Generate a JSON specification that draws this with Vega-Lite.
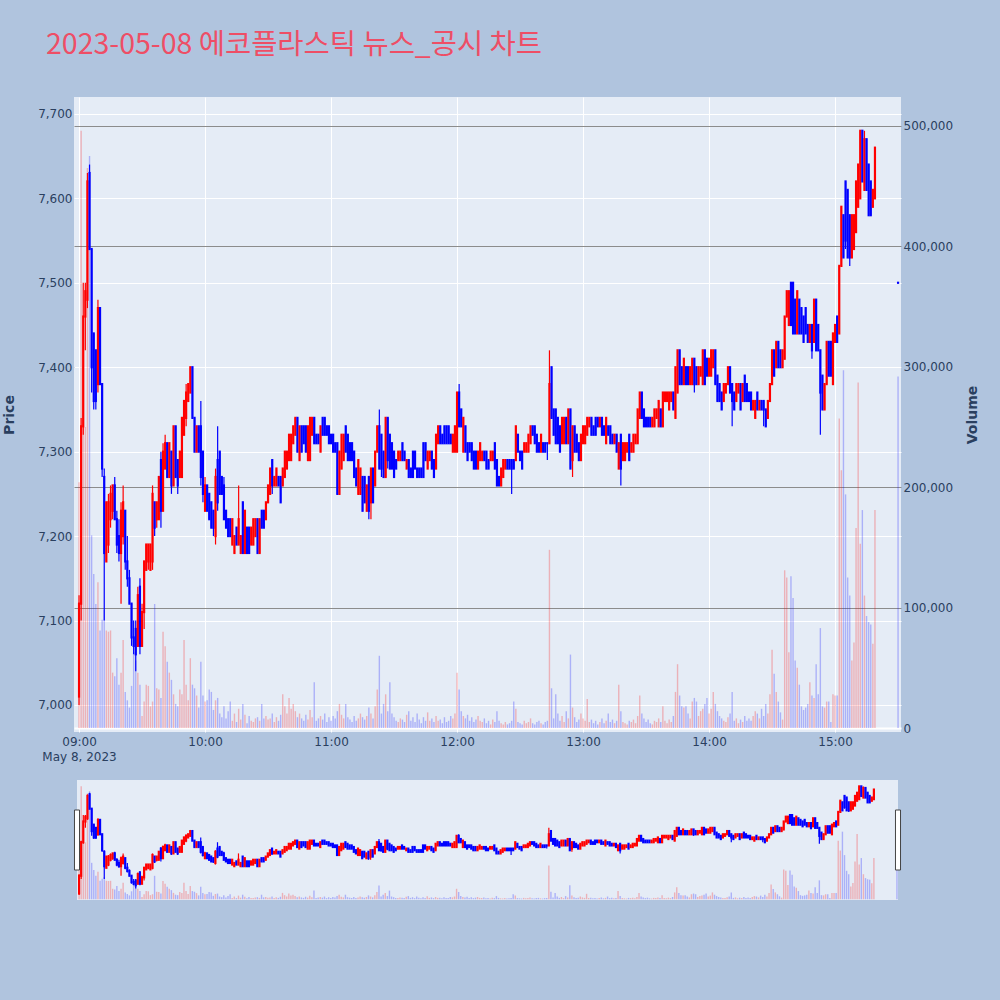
{
"$schema": "https://vega.github.io/schema/vega-lite/v6.json",
"background": "#b0c4de",
"padding": {"left": 2, "top": 30, "right": 20, "bottom": 100},
"title": {"text": "2023-05-08 에코플라스틱 뉴스_공시 차트", "anchor": "start", "frame": "group", "font": "Noto Sans CJK KR", "fontSize": 28.5, "fontWeight": "normal", "color": "#ee4e66", "baseline": "bottom", "offset": 9, "dx": -28},
"bounds": "flush",
"center": true,
"spacing": 48,
"config": {"view": {"stroke": null}},
"datasets": {"k": [
{"m":0,"o":7010,"h":7130,"l":7000,"c":7120,"v":204000},
{"m":1,"o":7120,"h":7340,"l":7100,"c":7330,"v":496000},
{"m":2,"o":7330,"h":7500,"l":7320,"c":7460,"v":300000},
{"m":3,"o":7460,"h":7500,"l":7420,"c":7490,"v":250000},
{"m":4,"o":7480,"h":7630,"l":7470,"c":7620,"v":465000},
{"m":5,"o":7630,"h":7640,"l":7540,"c":7540,"v":475000},
{"m":6,"o":7540,"h":7540,"l":7370,"c":7400,"v":160000},
{"m":7,"o":7440,"h":7440,"l":7350,"c":7360,"v":128000},
{"m":8,"o":7420,"h":7420,"l":7350,"c":7360,"v":103000},
{"m":9,"o":7380,"h":7480,"l":7370,"c":7470,"v":121000},
{"m":10,"o":7470,"h":7470,"l":7380,"c":7380,"v":81000},
{"m":11,"o":7380,"h":7380,"l":7270,"c":7280,"v":90000},
{"m":12,"o":7270,"h":7280,"l":7100,"c":7180,"v":98000},
{"m":13,"o":7170,"h":7240,"l":7170,"c":7240,"v":81000},
{"m":14,"o":7190,"h":7250,"l":7180,"c":7240,"v":80000},
{"m":15,"o":7220,"h":7260,"l":7210,"c":7250,"v":81000},
{"m":16,"o":7230,"h":7260,"l":7220,"c":7260,"v":46000},
{"m":17,"o":7260,"h":7270,"l":7220,"c":7220,"v":43000},
{"m":18,"o":7220,"h":7230,"l":7180,"c":7190,"v":58000},
{"m":19,"o":7200,"h":7220,"l":7170,"c":7180,"v":36000},
{"m":20,"o":7180,"h":7240,"l":7120,"c":7230,"v":46000},
{"m":21,"o":7200,"h":7260,"l":7190,"c":7240,"v":73000},
{"m":22,"o":7230,"h":7230,"l":7160,"c":7170,"v":30000},
{"m":23,"o":7170,"h":7200,"l":7140,"c":7150,"v":23000},
{"m":24,"o":7150,"h":7160,"l":7120,"c":7120,"v":17000},
{"m":25,"o":7120,"h":7120,"l":7070,"c":7080,"v":35000},
{"m":26,"o":7080,"h":7100,"l":7060,"c":7070,"v":63000},
{"m":27,"o":7090,"h":7100,"l":7040,"c":7060,"v":56000},
{"m":28,"o":7070,"h":7140,"l":7070,"c":7130,"v":46000},
{"m":29,"o":7140,"h":7150,"l":7060,"c":7070,"v":36000},
{"m":30,"o":7070,"h":7120,"l":7070,"c":7110,"v":10000},
{"m":31,"o":7110,"h":7170,"l":7090,"c":7170,"v":22000},
{"m":32,"o":7160,"h":7190,"l":7160,"c":7190,"v":36000},
{"m":33,"o":7170,"h":7190,"l":7160,"c":7190,"v":35000},
{"m":34,"o":7160,"h":7190,"l":7160,"c":7190,"v":18000},
{"m":35,"o":7170,"h":7260,"l":7160,"c":7250,"v":22000},
{"m":36,"o":7240,"h":7240,"l":7200,"c":7210,"v":103000},
{"m":37,"o":7220,"h":7240,"l":7210,"c":7240,"v":33000},
{"m":38,"o":7220,"h":7270,"l":7220,"c":7270,"v":32000},
{"m":39,"o":7290,"h":7300,"l":7210,"c":7230,"v":25000},
{"m":40,"o":7230,"h":7310,"l":7230,"c":7300,"v":80000},
{"m":41,"o":7280,"h":7320,"l":7280,"c":7310,"v":68000},
{"m":42,"o":7310,"h":7310,"l":7270,"c":7270,"v":55000},
{"m":43,"o":7270,"h":7310,"l":7270,"c":7310,"v":46000},
{"m":44,"o":7300,"h":7300,"l":7250,"c":7260,"v":40000},
{"m":45,"o":7260,"h":7330,"l":7260,"c":7330,"v":28000},
{"m":46,"o":7330,"h":7330,"l":7270,"c":7270,"v":20000},
{"m":47,"o":7290,"h":7290,"l":7250,"c":7260,"v":18000},
{"m":48,"o":7270,"h":7300,"l":7270,"c":7300,"v":32000},
{"m":49,"o":7270,"h":7340,"l":7270,"c":7340,"v":28000},
{"m":50,"o":7320,"h":7360,"l":7320,"c":7360,"v":73000},
{"m":51,"o":7340,"h":7380,"l":7330,"c":7370,"v":36000},
{"m":52,"o":7360,"h":7380,"l":7360,"c":7380,"v":23000},
{"m":53,"o":7370,"h":7400,"l":7370,"c":7400,"v":58000},
{"m":54,"o":7400,"h":7400,"l":7340,"c":7340,"v":36000},
{"m":55,"o":7340,"h":7340,"l":7300,"c":7300,"v":33000},
{"m":56,"o":7300,"h":7330,"l":7300,"c":7330,"v":27000},
{"m":57,"o":7330,"h":7330,"l":7300,"c":7300,"v":17000},
{"m":58,"o":7330,"h":7360,"l":7260,"c":7270,"v":55000},
{"m":59,"o":7300,"h":7300,"l":7240,"c":7250,"v":27000},
{"m":60,"o":7230,"h":7270,"l":7230,"c":7260,"v":22000},
{"m":61,"o":7260,"h":7260,"l":7230,"c":7230,"v":23000},
{"m":62,"o":7250,"h":7250,"l":7220,"c":7220,"v":32000},
{"m":63,"o":7240,"h":7240,"l":7210,"c":7210,"v":30000},
{"m":64,"o":7230,"h":7230,"l":7200,"c":7210,"v":15000},
{"m":65,"o":7200,"h":7280,"l":7190,"c":7270,"v":23000},
{"m":66,"o":7290,"h":7330,"l":7230,"c":7240,"v":25000},
{"m":67,"o":7300,"h":7300,"l":7250,"c":7250,"v":12000},
{"m":68,"o":7270,"h":7270,"l":7250,"c":7250,"v":9000},
{"m":69,"o":7260,"h":7270,"l":7220,"c":7220,"v":18000},
{"m":70,"o":7230,"h":7230,"l":7210,"c":7210,"v":8000},
{"m":71,"o":7220,"h":7220,"l":7200,"c":7200,"v":14000},
{"m":72,"o":7220,"h":7220,"l":7200,"c":7200,"v":22000},
{"m":73,"o":7190,"h":7220,"l":7190,"c":7220,"v":6000},
{"m":74,"o":7180,"h":7200,"l":7180,"c":7200,"v":12000},
{"m":75,"o":7210,"h":7210,"l":7190,"c":7190,"v":5000},
{"m":76,"o":7190,"h":7260,"l":7190,"c":7220,"v":16000},
{"m":77,"o":7180,"h":7200,"l":7180,"c":7200,"v":7000},
{"m":78,"o":7240,"h":7240,"l":7180,"c":7180,"v":20000},
{"m":79,"o":7180,"h":7230,"l":7180,"c":7230,"v":11000},
{"m":80,"o":7210,"h":7210,"l":7180,"c":7180,"v":4000},
{"m":81,"o":7210,"h":7210,"l":7180,"c":7180,"v":10000},
{"m":82,"o":7190,"h":7210,"l":7190,"c":7210,"v":6000},
{"m":83,"o":7190,"h":7220,"l":7190,"c":7220,"v":5000},
{"m":84,"o":7200,"h":7220,"l":7200,"c":7220,"v":8000},
{"m":85,"o":7220,"h":7220,"l":7180,"c":7180,"v":9000},
{"m":86,"o":7180,"h":7220,"l":7180,"c":7220,"v":6000},
{"m":87,"o":7230,"h":7230,"l":7210,"c":7210,"v":20000},
{"m":88,"o":7230,"h":7230,"l":7210,"c":7210,"v":8000},
{"m":89,"o":7220,"h":7240,"l":7220,"c":7240,"v":10000},
{"m":90,"o":7240,"h":7260,"l":7240,"c":7260,"v":7000},
{"m":91,"o":7250,"h":7280,"l":7250,"c":7280,"v":8000},
{"m":92,"o":7290,"h":7290,"l":7250,"c":7260,"v":12000},
{"m":93,"o":7260,"h":7270,"l":7260,"c":7270,"v":5000},
{"m":94,"o":7260,"h":7280,"l":7260,"c":7280,"v":9000},
{"m":95,"o":7270,"h":7270,"l":7260,"c":7260,"v":6000},
{"m":96,"o":7270,"h":7270,"l":7240,"c":7240,"v":11000},
{"m":97,"o":7260,"h":7280,"l":7260,"c":7280,"v":28000},
{"m":98,"o":7270,"h":7300,"l":7270,"c":7300,"v":18000},
{"m":99,"o":7280,"h":7300,"l":7280,"c":7300,"v":12000},
{"m":100,"o":7290,"h":7320,"l":7290,"c":7320,"v":25000},
{"m":101,"o":7290,"h":7320,"l":7290,"c":7320,"v":16000},
{"m":102,"o":7310,"h":7330,"l":7310,"c":7330,"v":20000},
{"m":103,"o":7320,"h":7340,"l":7320,"c":7340,"v":14000},
{"m":104,"o":7340,"h":7340,"l":7300,"c":7300,"v":9000},
{"m":105,"o":7290,"h":7330,"l":7290,"c":7330,"v":12000},
{"m":106,"o":7330,"h":7330,"l":7300,"c":7300,"v":8000},
{"m":107,"o":7330,"h":7330,"l":7310,"c":7310,"v":6000},
{"m":108,"o":7330,"h":7330,"l":7300,"c":7300,"v":11000},
{"m":109,"o":7290,"h":7330,"l":7290,"c":7330,"v":7000},
{"m":110,"o":7290,"h":7340,"l":7290,"c":7340,"v":15000},
{"m":111,"o":7320,"h":7340,"l":7320,"c":7340,"v":9000},
{"m":112,"o":7340,"h":7340,"l":7310,"c":7310,"v":38000},
{"m":113,"o":7320,"h":7320,"l":7310,"c":7310,"v":6000},
{"m":114,"o":7320,"h":7320,"l":7310,"c":7310,"v":8000},
{"m":115,"o":7300,"h":7330,"l":7300,"c":7330,"v":10000},
{"m":116,"o":7340,"h":7340,"l":7320,"c":7320,"v":7000},
{"m":117,"o":7340,"h":7340,"l":7320,"c":7320,"v":12000},
{"m":118,"o":7330,"h":7330,"l":7320,"c":7320,"v":5000},
{"m":119,"o":7330,"h":7330,"l":7310,"c":7310,"v":9000},
{"m":120,"o":7320,"h":7320,"l":7310,"c":7310,"v":6000},
{"m":121,"o":7320,"h":7320,"l":7300,"c":7300,"v":10000},
{"m":122,"o":7310,"h":7310,"l":7300,"c":7300,"v":8000},
{"m":123,"o":7310,"h":7310,"l":7250,"c":7250,"v":14000},
{"m":124,"o":7250,"h":7300,"l":7250,"c":7300,"v":20000},
{"m":125,"o":7280,"h":7320,"l":7280,"c":7320,"v":11000},
{"m":126,"o":7290,"h":7320,"l":7290,"c":7320,"v":8000},
{"m":127,"o":7330,"h":7330,"l":7300,"c":7300,"v":20000},
{"m":128,"o":7320,"h":7320,"l":7290,"c":7290,"v":9000},
{"m":129,"o":7310,"h":7310,"l":7290,"c":7290,"v":7000},
{"m":130,"o":7310,"h":7310,"l":7290,"c":7290,"v":5000},
{"m":131,"o":7300,"h":7300,"l":7270,"c":7270,"v":10000},
{"m":132,"o":7280,"h":7280,"l":7260,"c":7260,"v":6000},
{"m":133,"o":7250,"h":7290,"l":7250,"c":7290,"v":8000},
{"m":134,"o":7250,"h":7280,"l":7250,"c":7280,"v":12000},
{"m":135,"o":7270,"h":7270,"l":7230,"c":7230,"v":9000},
{"m":136,"o":7270,"h":7270,"l":7240,"c":7240,"v":7000},
{"m":137,"o":7230,"h":7260,"l":7230,"c":7260,"v":10000},
{"m":138,"o":7270,"h":7270,"l":7220,"c":7230,"v":17000},
{"m":139,"o":7240,"h":7280,"l":7220,"c":7280,"v":12000},
{"m":140,"o":7280,"h":7280,"l":7240,"c":7240,"v":8000},
{"m":141,"o":7260,"h":7300,"l":7260,"c":7300,"v":18000},
{"m":142,"o":7300,"h":7330,"l":7300,"c":7330,"v":32000},
{"m":143,"o":7330,"h":7350,"l":7280,"c":7280,"v":60000},
{"m":144,"o":7320,"h":7320,"l":7270,"c":7280,"v":12000},
{"m":145,"o":7300,"h":7300,"l":7270,"c":7270,"v":20000},
{"m":146,"o":7270,"h":7340,"l":7270,"c":7340,"v":28000},
{"m":147,"o":7340,"h":7340,"l":7280,"c":7290,"v":14000},
{"m":148,"o":7320,"h":7320,"l":7280,"c":7280,"v":38000},
{"m":149,"o":7310,"h":7310,"l":7280,"c":7280,"v":12000},
{"m":150,"o":7300,"h":7300,"l":7270,"c":7270,"v":9000},
{"m":151,"o":7290,"h":7290,"l":7280,"c":7280,"v":6000},
{"m":152,"o":7290,"h":7300,"l":7290,"c":7300,"v":5000},
{"m":153,"o":7290,"h":7300,"l":7290,"c":7300,"v":8000},
{"m":154,"o":7310,"h":7310,"l":7290,"c":7290,"v":7000},
{"m":155,"o":7300,"h":7300,"l":7290,"c":7290,"v":5000},
{"m":156,"o":7280,"h":7290,"l":7280,"c":7290,"v":11000},
{"m":157,"o":7290,"h":7290,"l":7270,"c":7270,"v":14000},
{"m":158,"o":7280,"h":7280,"l":7270,"c":7270,"v":6000},
{"m":159,"o":7300,"h":7300,"l":7270,"c":7270,"v":9000},
{"m":160,"o":7300,"h":7300,"l":7280,"c":7280,"v":5000},
{"m":161,"o":7280,"h":7280,"l":7270,"c":7270,"v":12000},
{"m":162,"o":7280,"h":7280,"l":7270,"c":7270,"v":7000},
{"m":163,"o":7280,"h":7280,"l":7270,"c":7270,"v":4000},
{"m":164,"o":7310,"h":7310,"l":7270,"c":7270,"v":9000},
{"m":165,"o":7310,"h":7310,"l":7290,"c":7290,"v":6000},
{"m":166,"o":7280,"h":7300,"l":7280,"c":7300,"v":13000},
{"m":167,"o":7290,"h":7300,"l":7290,"c":7300,"v":6000},
{"m":168,"o":7300,"h":7300,"l":7280,"c":7280,"v":8000},
{"m":169,"o":7290,"h":7290,"l":7270,"c":7270,"v":5000},
{"m":170,"o":7280,"h":7320,"l":7280,"c":7320,"v":10000},
{"m":171,"o":7310,"h":7330,"l":7310,"c":7330,"v":6000},
{"m":172,"o":7330,"h":7330,"l":7310,"c":7310,"v":7000},
{"m":173,"o":7320,"h":7320,"l":7310,"c":7310,"v":4000},
{"m":174,"o":7330,"h":7330,"l":7310,"c":7310,"v":9000},
{"m":175,"o":7330,"h":7330,"l":7310,"c":7310,"v":5000},
{"m":176,"o":7330,"h":7330,"l":7310,"c":7310,"v":6000},
{"m":177,"o":7320,"h":7320,"l":7310,"c":7310,"v":10000},
{"m":178,"o":7300,"h":7320,"l":7300,"c":7320,"v":8000},
{"m":179,"o":7300,"h":7330,"l":7300,"c":7330,"v":12000},
{"m":180,"o":7300,"h":7370,"l":7300,"c":7370,"v":46000},
{"m":181,"o":7370,"h":7380,"l":7330,"c":7330,"v":32000},
{"m":182,"o":7350,"h":7350,"l":7330,"c":7330,"v":14000},
{"m":183,"o":7300,"h":7340,"l":7300,"c":7340,"v":10000},
{"m":184,"o":7330,"h":7330,"l":7300,"c":7300,"v":8000},
{"m":185,"o":7310,"h":7310,"l":7290,"c":7290,"v":11000},
{"m":186,"o":7310,"h":7310,"l":7300,"c":7300,"v":6000},
{"m":187,"o":7310,"h":7310,"l":7290,"c":7290,"v":9000},
{"m":188,"o":7300,"h":7300,"l":7280,"c":7280,"v":5000},
{"m":189,"o":7300,"h":7300,"l":7280,"c":7280,"v":7000},
{"m":190,"o":7280,"h":7300,"l":7280,"c":7300,"v":10000},
{"m":191,"o":7290,"h":7310,"l":7290,"c":7310,"v":6000},
{"m":192,"o":7290,"h":7300,"l":7290,"c":7300,"v":5000},
{"m":193,"o":7300,"h":7300,"l":7290,"c":7290,"v":8000},
{"m":194,"o":7300,"h":7300,"l":7280,"c":7280,"v":4000},
{"m":195,"o":7290,"h":7290,"l":7280,"c":7280,"v":6000},
{"m":196,"o":7290,"h":7300,"l":7290,"c":7300,"v":3000},
{"m":197,"o":7290,"h":7300,"l":7290,"c":7300,"v":7000},
{"m":198,"o":7310,"h":7310,"l":7280,"c":7280,"v":5000},
{"m":199,"o":7290,"h":7290,"l":7260,"c":7260,"v":14000},
{"m":200,"o":7270,"h":7270,"l":7260,"c":7260,"v":6000},
{"m":201,"o":7260,"h":7280,"l":7260,"c":7280,"v":4000},
{"m":202,"o":7270,"h":7290,"l":7270,"c":7290,"v":3000},
{"m":203,"o":7280,"h":7290,"l":7280,"c":7290,"v":5000},
{"m":204,"o":7290,"h":7290,"l":7280,"c":7280,"v":3000},
{"m":205,"o":7290,"h":7290,"l":7280,"c":7280,"v":4000},
{"m":206,"o":7290,"h":7290,"l":7250,"c":7280,"v":6000},
{"m":207,"o":7290,"h":7290,"l":7280,"c":7280,"v":22000},
{"m":208,"o":7290,"h":7330,"l":7290,"c":7330,"v":16000},
{"m":209,"o":7320,"h":7320,"l":7300,"c":7300,"v":5000},
{"m":210,"o":7300,"h":7300,"l":7290,"c":7290,"v":4000},
{"m":211,"o":7300,"h":7300,"l":7280,"c":7280,"v":3000},
{"m":212,"o":7300,"h":7310,"l":7300,"c":7310,"v":6000},
{"m":213,"o":7300,"h":7310,"l":7300,"c":7310,"v":4000},
{"m":214,"o":7300,"h":7320,"l":7300,"c":7320,"v":5000},
{"m":215,"o":7310,"h":7330,"l":7310,"c":7330,"v":8000},
{"m":216,"o":7330,"h":7330,"l":7320,"c":7320,"v":4000},
{"m":217,"o":7330,"h":7330,"l":7310,"c":7310,"v":3000},
{"m":218,"o":7320,"h":7320,"l":7300,"c":7300,"v":5000},
{"m":219,"o":7310,"h":7310,"l":7300,"c":7300,"v":6000},
{"m":220,"o":7300,"h":7320,"l":7300,"c":7320,"v":4000},
{"m":221,"o":7310,"h":7310,"l":7300,"c":7300,"v":3000},
{"m":222,"o":7310,"h":7310,"l":7300,"c":7300,"v":5000},
{"m":223,"o":7310,"h":7310,"l":7290,"c":7310,"v":6000},
{"m":224,"o":7310,"h":7420,"l":7310,"c":7380,"v":148000},
{"m":225,"o":7400,"h":7400,"l":7340,"c":7340,"v":33000},
{"m":226,"o":7350,"h":7350,"l":7320,"c":7320,"v":8000},
{"m":227,"o":7350,"h":7350,"l":7310,"c":7310,"v":28000},
{"m":228,"o":7340,"h":7340,"l":7310,"c":7310,"v":12000},
{"m":229,"o":7330,"h":7330,"l":7300,"c":7300,"v":6000},
{"m":230,"o":7310,"h":7340,"l":7310,"c":7340,"v":10000},
{"m":231,"o":7310,"h":7340,"l":7310,"c":7340,"v":5000},
{"m":232,"o":7340,"h":7340,"l":7310,"c":7310,"v":14000},
{"m":233,"o":7310,"h":7350,"l":7310,"c":7350,"v":8000},
{"m":234,"o":7350,"h":7350,"l":7280,"c":7280,"v":61000},
{"m":235,"o":7290,"h":7330,"l":7270,"c":7330,"v":17000},
{"m":236,"o":7330,"h":7330,"l":7300,"c":7300,"v":9000},
{"m":237,"o":7320,"h":7320,"l":7300,"c":7300,"v":5000},
{"m":238,"o":7310,"h":7310,"l":7290,"c":7290,"v":7000},
{"m":239,"o":7290,"h":7320,"l":7290,"c":7320,"v":12000},
{"m":240,"o":7310,"h":7330,"l":7310,"c":7330,"v":8000},
{"m":241,"o":7310,"h":7330,"l":7310,"c":7330,"v":6000},
{"m":242,"o":7320,"h":7340,"l":7320,"c":7340,"v":24000},
{"m":243,"o":7330,"h":7340,"l":7330,"c":7340,"v":5000},
{"m":244,"o":7340,"h":7340,"l":7320,"c":7320,"v":7000},
{"m":245,"o":7330,"h":7330,"l":7320,"c":7320,"v":4000},
{"m":246,"o":7340,"h":7340,"l":7320,"c":7320,"v":6000},
{"m":247,"o":7340,"h":7340,"l":7330,"c":7330,"v":3000},
{"m":248,"o":7330,"h":7340,"l":7330,"c":7340,"v":5000},
{"m":249,"o":7340,"h":7340,"l":7320,"c":7320,"v":8000},
{"m":250,"o":7330,"h":7330,"l":7320,"c":7320,"v":4000},
{"m":251,"o":7310,"h":7340,"l":7310,"c":7340,"v":6000},
{"m":252,"o":7330,"h":7330,"l":7320,"c":7320,"v":12000},
{"m":253,"o":7330,"h":7330,"l":7310,"c":7310,"v":5000},
{"m":254,"o":7320,"h":7320,"l":7310,"c":7310,"v":7000},
{"m":255,"o":7310,"h":7320,"l":7310,"c":7320,"v":4000},
{"m":256,"o":7320,"h":7320,"l":7300,"c":7300,"v":6000},
{"m":257,"o":7280,"h":7310,"l":7280,"c":7310,"v":36000},
{"m":258,"o":7320,"h":7320,"l":7260,"c":7280,"v":14000},
{"m":259,"o":7290,"h":7310,"l":7290,"c":7310,"v":5000},
{"m":260,"o":7290,"h":7310,"l":7290,"c":7310,"v":4000},
{"m":261,"o":7300,"h":7310,"l":7300,"c":7310,"v":3000},
{"m":262,"o":7320,"h":7320,"l":7290,"c":7290,"v":6000},
{"m":263,"o":7300,"h":7310,"l":7300,"c":7310,"v":5000},
{"m":264,"o":7300,"h":7320,"l":7300,"c":7320,"v":7000},
{"m":265,"o":7310,"h":7320,"l":7310,"c":7320,"v":4000},
{"m":266,"o":7310,"h":7350,"l":7310,"c":7350,"v":10000},
{"m":267,"o":7340,"h":7370,"l":7340,"c":7370,"v":27000},
{"m":268,"o":7370,"h":7370,"l":7340,"c":7340,"v":12000},
{"m":269,"o":7350,"h":7350,"l":7330,"c":7330,"v":8000},
{"m":270,"o":7340,"h":7340,"l":7330,"c":7330,"v":5000},
{"m":271,"o":7340,"h":7340,"l":7330,"c":7330,"v":7000},
{"m":272,"o":7340,"h":7340,"l":7330,"c":7330,"v":4000},
{"m":273,"o":7330,"h":7340,"l":7330,"c":7340,"v":3000},
{"m":274,"o":7330,"h":7350,"l":7330,"c":7350,"v":6000},
{"m":275,"o":7340,"h":7350,"l":7340,"c":7350,"v":5000},
{"m":276,"o":7330,"h":7360,"l":7330,"c":7360,"v":8000},
{"m":277,"o":7350,"h":7350,"l":7330,"c":7330,"v":5000},
{"m":278,"o":7330,"h":7370,"l":7330,"c":7370,"v":18000},
{"m":279,"o":7360,"h":7370,"l":7360,"c":7370,"v":6000},
{"m":280,"o":7360,"h":7370,"l":7360,"c":7370,"v":4000},
{"m":281,"o":7350,"h":7370,"l":7350,"c":7370,"v":7000},
{"m":282,"o":7360,"h":7370,"l":7360,"c":7370,"v":5000},
{"m":283,"o":7370,"h":7370,"l":7350,"c":7350,"v":10000},
{"m":284,"o":7340,"h":7400,"l":7340,"c":7400,"v":30000},
{"m":285,"o":7370,"h":7420,"l":7370,"c":7420,"v":53000},
{"m":286,"o":7420,"h":7420,"l":7380,"c":7380,"v":27000},
{"m":287,"o":7400,"h":7400,"l":7380,"c":7380,"v":18000},
{"m":288,"o":7380,"h":7410,"l":7380,"c":7410,"v":17000},
{"m":289,"o":7400,"h":7400,"l":7380,"c":7380,"v":18000},
{"m":290,"o":7400,"h":7400,"l":7380,"c":7380,"v":12000},
{"m":291,"o":7380,"h":7400,"l":7380,"c":7400,"v":8000},
{"m":292,"o":7380,"h":7410,"l":7380,"c":7410,"v":22000},
{"m":293,"o":7410,"h":7410,"l":7370,"c":7380,"v":25000},
{"m":294,"o":7400,"h":7400,"l":7380,"c":7380,"v":22000},
{"m":295,"o":7380,"h":7400,"l":7380,"c":7400,"v":10000},
{"m":296,"o":7390,"h":7400,"l":7390,"c":7400,"v":14000},
{"m":297,"o":7380,"h":7420,"l":7380,"c":7420,"v":16000},
{"m":298,"o":7420,"h":7420,"l":7380,"c":7380,"v":20000},
{"m":299,"o":7410,"h":7410,"l":7390,"c":7390,"v":25000},
{"m":300,"o":7390,"h":7410,"l":7390,"c":7410,"v":12000},
{"m":301,"o":7390,"h":7420,"l":7390,"c":7420,"v":16000},
{"m":302,"o":7400,"h":7420,"l":7400,"c":7420,"v":30000},
{"m":303,"o":7420,"h":7420,"l":7380,"c":7380,"v":20000},
{"m":304,"o":7390,"h":7390,"l":7360,"c":7360,"v":14000},
{"m":305,"o":7380,"h":7380,"l":7360,"c":7360,"v":10000},
{"m":306,"o":7370,"h":7370,"l":7350,"c":7350,"v":8000},
{"m":307,"o":7360,"h":7380,"l":7360,"c":7380,"v":6000},
{"m":308,"o":7370,"h":7380,"l":7370,"c":7380,"v":5000},
{"m":309,"o":7380,"h":7400,"l":7380,"c":7400,"v":9000},
{"m":310,"o":7400,"h":7400,"l":7370,"c":7370,"v":12000},
{"m":311,"o":7380,"h":7380,"l":7330,"c":7360,"v":30000},
{"m":312,"o":7370,"h":7370,"l":7350,"c":7350,"v":6000},
{"m":313,"o":7360,"h":7380,"l":7360,"c":7380,"v":8000},
{"m":314,"o":7370,"h":7380,"l":7370,"c":7380,"v":4000},
{"m":315,"o":7380,"h":7380,"l":7350,"c":7350,"v":7000},
{"m":316,"o":7360,"h":7380,"l":7360,"c":7380,"v":5000},
{"m":317,"o":7390,"h":7390,"l":7360,"c":7360,"v":10000},
{"m":318,"o":7380,"h":7380,"l":7360,"c":7360,"v":6000},
{"m":319,"o":7370,"h":7370,"l":7360,"c":7360,"v":8000},
{"m":320,"o":7370,"h":7370,"l":7350,"c":7350,"v":6000},
{"m":321,"o":7350,"h":7360,"l":7350,"c":7360,"v":10000},
{"m":322,"o":7340,"h":7360,"l":7340,"c":7360,"v":14000},
{"m":323,"o":7370,"h":7370,"l":7350,"c":7350,"v":12000},
{"m":324,"o":7350,"h":7360,"l":7350,"c":7360,"v":8000},
{"m":325,"o":7360,"h":7360,"l":7350,"c":7350,"v":16000},
{"m":326,"o":7360,"h":7360,"l":7330,"c":7350,"v":10000},
{"m":327,"o":7350,"h":7350,"l":7330,"c":7330,"v":20000},
{"m":328,"o":7340,"h":7360,"l":7340,"c":7360,"v":12000},
{"m":329,"o":7360,"h":7380,"l":7360,"c":7380,"v":28000},
{"m":330,"o":7380,"h":7420,"l":7380,"c":7420,"v":65000},
{"m":331,"o":7420,"h":7420,"l":7390,"c":7390,"v":45000},
{"m":332,"o":7400,"h":7430,"l":7400,"c":7430,"v":30000},
{"m":333,"o":7430,"h":7430,"l":7400,"c":7400,"v":22000},
{"m":334,"o":7420,"h":7420,"l":7400,"c":7400,"v":13000},
{"m":335,"o":7400,"h":7420,"l":7400,"c":7420,"v":7000},
{"m":336,"o":7410,"h":7460,"l":7410,"c":7460,"v":131000},
{"m":337,"o":7460,"h":7490,"l":7460,"c":7490,"v":125000},
{"m":338,"o":7450,"h":7490,"l":7450,"c":7490,"v":63000},
{"m":339,"o":7500,"h":7500,"l":7450,"c":7450,"v":126000},
{"m":340,"o":7500,"h":7500,"l":7440,"c":7440,"v":108000},
{"m":341,"o":7480,"h":7480,"l":7440,"c":7440,"v":56000},
{"m":342,"o":7440,"h":7490,"l":7440,"c":7490,"v":50000},
{"m":343,"o":7480,"h":7480,"l":7440,"c":7440,"v":36000},
{"m":344,"o":7470,"h":7470,"l":7440,"c":7440,"v":18000},
{"m":345,"o":7460,"h":7460,"l":7430,"c":7430,"v":15000},
{"m":346,"o":7470,"h":7470,"l":7440,"c":7440,"v":17000},
{"m":347,"o":7450,"h":7450,"l":7430,"c":7430,"v":20000},
{"m":348,"o":7430,"h":7450,"l":7430,"c":7450,"v":38000},
{"m":349,"o":7450,"h":7450,"l":7410,"c":7420,"v":27000},
{"m":350,"o":7430,"h":7480,"l":7430,"c":7480,"v":25000},
{"m":351,"o":7480,"h":7480,"l":7420,"c":7420,"v":53000},
{"m":352,"o":7450,"h":7450,"l":7420,"c":7420,"v":28000},
{"m":353,"o":7420,"h":7420,"l":7320,"c":7370,"v":83000},
{"m":354,"o":7390,"h":7390,"l":7350,"c":7350,"v":18000},
{"m":355,"o":7350,"h":7380,"l":7350,"c":7380,"v":17000},
{"m":356,"o":7380,"h":7430,"l":7380,"c":7430,"v":22000},
{"m":357,"o":7430,"h":7430,"l":7390,"c":7390,"v":22000},
{"m":358,"o":7430,"h":7430,"l":7390,"c":7390,"v":5000},
{"m":359,"o":7380,"h":7440,"l":7380,"c":7440,"v":28000},
{"m":360,"o":7430,"h":7450,"l":7430,"c":7450,"v":27000},
{"m":361,"o":7460,"h":7460,"l":7430,"c":7430,"v":27000},
{"m":362,"o":7440,"h":7520,"l":7440,"c":7520,"v":257000},
{"m":363,"o":7520,"h":7590,"l":7520,"c":7590,"v":214000},
{"m":364,"o":7580,"h":7580,"l":7530,"c":7530,"v":297000},
{"m":365,"o":7620,"h":7620,"l":7540,"c":7550,"v":194000},
{"m":366,"o":7610,"h":7610,"l":7530,"c":7530,"v":125000},
{"m":367,"o":7580,"h":7580,"l":7520,"c":7530,"v":110000},
{"m":368,"o":7530,"h":7580,"l":7530,"c":7580,"v":56000},
{"m":369,"o":7540,"h":7580,"l":7540,"c":7580,"v":71000},
{"m":370,"o":7560,"h":7620,"l":7560,"c":7620,"v":166000},
{"m":371,"o":7590,"h":7640,"l":7590,"c":7640,"v":287000},
{"m":372,"o":7600,"h":7680,"l":7600,"c":7680,"v":153000},
{"m":373,"o":7680,"h":7680,"l":7620,"c":7620,"v":181000},
{"m":374,"o":7610,"h":7680,"l":7610,"c":7670,"v":110000},
{"m":375,"o":7670,"h":7670,"l":7610,"c":7610,"v":93000},
{"m":376,"o":7640,"h":7640,"l":7580,"c":7580,"v":88000},
{"m":377,"o":7620,"h":7620,"l":7580,"c":7580,"v":86000},
{"m":378,"o":7590,"h":7610,"l":7590,"c":7610,"v":70000},
{"m":379,"o":7600,"h":7660,"l":7600,"c":7660,"v":181000},
{"m":390,"o":7500,"h":7500,"l":7500,"c":7500,"v":292000}
]},
"vconcat": [
{
"width": 827, "height": 635,
"view": {"fill": "#e5ecf6", "stroke": null},
"data": {"name": "k"},
"encoding": {
  "x": {"field": "m", "type": "quantitative", "scale": {"domain": [-2.4, 391.4], "nice": false, "zero": false, "padding": 0},
    "axis": {"values": [0, 60, 120, 180, 240, 300, 360], "title": null, "grid": true, "gridColor": "#ffffff", "gridWidth": 1, "domain": false, "ticks": false, "labelPadding": 4, "labelFont": "DejaVu Sans", "labelFontSize": 12, "labelColor": "#2a3f5f", "labelLineHeight": 15, "labelFlush": false,
      "labelExpr": "datum.value == 0 ? ['09:00', 'May 8, 2023'] : ((datum.value / 60 + 9 < 10 ? '0' : '') + (datum.value / 60 + 9) + ':00')"}}
},
"layer": [
  {"mark": {"type": "bar", "size": 1.4, "opacity": 0.25},
   "encoding": {
     "y": {"field": "v", "type": "quantitative", "scale": {"domain": [-3300, 524000], "nice": false, "zero": false},
       "axis": {"orient": "right", "values": [0, 100000, 200000, 300000, 400000, 500000], "format": ",d", "title": "Volume", "titleAngle": 270, "titleFont": "DejaVu Sans", "titleFontSize": 14, "titleFontWeight": "bold", "titleColor": "#2a3f5f", "titlePadding": 27, "grid": true, "gridColor": {"condition": {"test": "datum.value === 0", "value": "#ffffff"}, "value": "#8c8c8c"}, "gridWidth": {"condition": {"test": "datum.value === 0", "value": 2}, "value": 1}, "domain": false, "ticks": false, "labelPadding": 2, "labelFont": "DejaVu Sans", "labelFontSize": 12, "labelColor": "#2a3f5f"}},
     "y2": {"datum": 0},
     "color": {"condition": {"test": "datum.c > datum.o", "value": "#ff0000"}, "value": "#0000ff"}
   }},
  {"mark": {"type": "rule", "strokeWidth": 1.2},
   "encoding": {
     "y": {"field": "l", "type": "quantitative", "scale": {"domain": [6968, 7720], "nice": false, "zero": false},
       "axis": {"orient": "left", "values": [7000, 7100, 7200, 7300, 7400, 7500, 7600, 7700], "format": ",d", "title": "Price", "titleFont": "DejaVu Sans", "titleFontSize": 14, "titleFontWeight": "bold", "titleColor": "#2a3f5f", "titlePadding": 21, "grid": true, "gridColor": "#ffffff", "gridWidth": 1, "domain": false, "ticks": false, "labelPadding": 2, "labelFont": "DejaVu Sans", "labelFontSize": 12, "labelColor": "#2a3f5f"}},
     "y2": {"field": "h"},
     "color": {"condition": {"test": "datum.c > datum.o", "value": "#ff0000"}, "value": "#0000ff"}
   }},
  {"mark": {"type": "rule", "strokeWidth": 2.2, "strokeCap": "square"},
   "encoding": {
     "y": {"field": "o", "type": "quantitative", "scale": {"domain": [6968, 7720], "nice": false, "zero": false}, "axis": null},
     "y2": {"field": "c"},
     "color": {"condition": {"test": "datum.c > datum.o", "value": "#ff0000"}, "value": "#0000ff"}
   }}
],
"resolve": {"scale": {"y": "independent"}, "axis": {"y": "independent"}}
},
{
"width": 821, "height": 120,
"view": {"fill": "#e5ecf6", "stroke": null},
"layer": [
  {"data": {"name": "k"},
   "mark": {"type": "bar", "size": 1.4, "opacity": 0.25},
   "encoding": {
     "x": {"field": "m", "type": "quantitative", "scale": {"domain": [-1, 390.5], "nice": false, "zero": false, "padding": 0}, "axis": null},
     "y": {"field": "v", "type": "quantitative", "scale": {"domain": [-3300, 524000], "nice": false, "zero": false}, "axis": null},
     "y2": {"datum": 0},
     "color": {"condition": {"test": "datum.c > datum.o", "value": "#ff0000"}, "value": "#0000ff"}
   }},
  {"data": {"name": "k"},
   "mark": {"type": "rule", "strokeWidth": 1.2},
   "encoding": {
     "x": {"field": "m", "type": "quantitative", "scale": {"domain": [-1, 390.5], "nice": false, "zero": false, "padding": 0}, "axis": null},
     "y": {"field": "l", "type": "quantitative", "scale": {"domain": [6968, 7720], "nice": false, "zero": false}, "axis": null},
     "y2": {"field": "h"},
     "color": {"condition": {"test": "datum.c > datum.o", "value": "#ff0000"}, "value": "#0000ff"}
   }},
  {"data": {"name": "k"},
   "mark": {"type": "rule", "strokeWidth": 2.2, "strokeCap": "square"},
   "encoding": {
     "x": {"field": "m", "type": "quantitative", "scale": {"domain": [-1, 390.5], "nice": false, "zero": false, "padding": 0}, "axis": null},
     "y": {"field": "o", "type": "quantitative", "scale": {"domain": [6968, 7720], "nice": false, "zero": false}, "axis": null},
     "y2": {"field": "c"},
     "color": {"condition": {"test": "datum.c > datum.o", "value": "#ff0000"}, "value": "#0000ff"}
   }},
  {"data": {"values": [{"side": "left"}]},
   "mark": {"type": "rect", "fill": "#ffffff", "stroke": "#444444", "strokeWidth": 1},
   "encoding": {
     "x": {"datum": -2.2, "type": "quantitative", "scale": {"domain": [-1, 390.5], "nice": false, "zero": false, "padding": 0}, "axis": null},
     "x2": {"datum": 0.2},
     "y": {"datum": 0.25, "type": "quantitative", "scale": {"domain": [0, 1], "nice": false, "zero": false}, "axis": null},
     "y2": {"datum": 0.75}
   }},
  {"data": {"values": [{"side": "right"}]},
   "mark": {"type": "rect", "fill": "#ffffff", "stroke": "#444444", "strokeWidth": 1},
   "encoding": {
     "x": {"datum": 389.3, "type": "quantitative", "scale": {"domain": [-1, 390.5], "nice": false, "zero": false, "padding": 0}, "axis": null},
     "x2": {"datum": 391.7},
     "y": {"datum": 0.25, "type": "quantitative", "scale": {"domain": [0, 1], "nice": false, "zero": false}, "axis": null},
     "y2": {"datum": 0.75}
   }}
],
"resolve": {"scale": {"y": "independent"}}
}
]
}
